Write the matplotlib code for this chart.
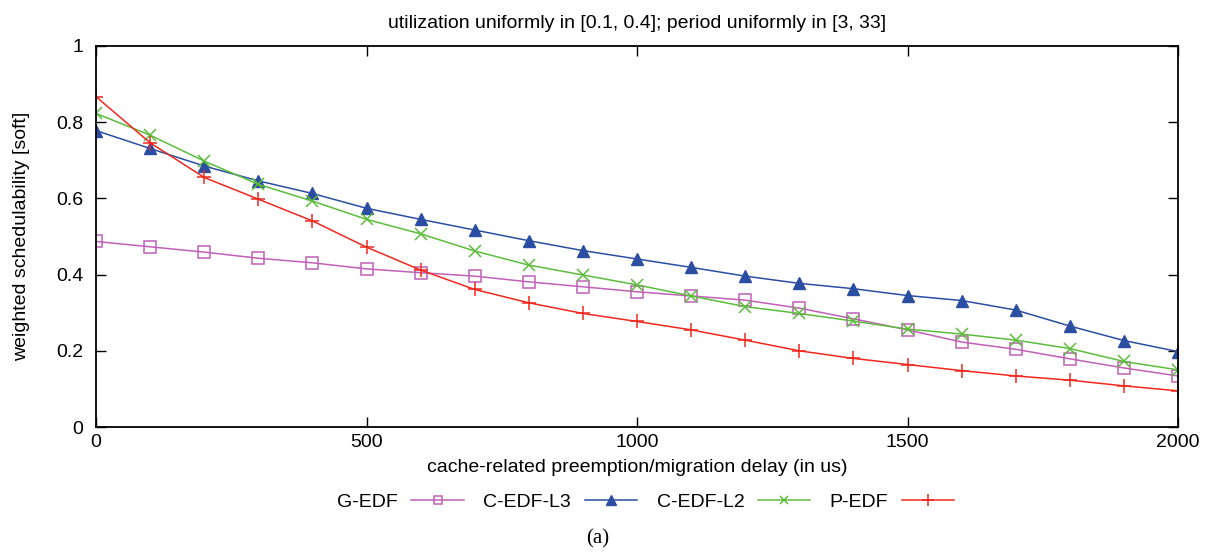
import matplotlib
matplotlib.use('Agg')
import matplotlib.pyplot as plt

# delay values (us) on the x axis
delay = [0, 100, 200, 300, 400, 500, 600, 700, 800, 900, 1000,
         1100, 1200, 1300, 1400, 1500, 1600, 1700, 1800, 1900, 2000]

# weighted schedulability
g_edf = [0.487, 0.473, 0.459, 0.443, 0.431, 0.415, 0.405, 0.396, 0.381, 0.368, 0.355,
         0.344, 0.333, 0.312, 0.284, 0.255, 0.223, 0.204, 0.179, 0.155, 0.134]
c_edf_l3 = [0.778, 0.731, 0.685, 0.646, 0.613, 0.574, 0.545, 0.517, 0.489, 0.463, 0.441,
            0.419, 0.396, 0.377, 0.363, 0.345, 0.332, 0.307, 0.265, 0.227, 0.198]
c_edf_l2 = [0.823, 0.766, 0.698, 0.637, 0.593, 0.545, 0.507, 0.462, 0.425, 0.399, 0.373,
            0.344, 0.316, 0.298, 0.278, 0.257, 0.244, 0.228, 0.206, 0.172, 0.150]
p_edf = [0.867, 0.746, 0.655, 0.598, 0.541, 0.472, 0.412, 0.361, 0.326, 0.298, 0.277,
         0.255, 0.228, 0.200, 0.180, 0.164, 0.148, 0.134, 0.123, 0.108, 0.095]

xticks = [0, 500, 1000, 1500, 2000]
yticks = [0, 0.2, 0.4, 0.6, 0.8, 1]

plt.rcParams['font.family'] = ['Liberation Sans', 'DejaVu Sans']
fs = 14

fig = plt.figure(figsize=(12.09, 5.52), dpi=100)
ax = fig.add_axes([0.0794, 0.2264, 0.8950, 0.6903])

ax.plot(delay, g_edf, color='#c060b8', lw=1.1, marker='s', ms=8,
        mfc='none', mec='#c060b8', mew=1.1, label='G-EDF')
ax.plot(delay, c_edf_l3, color='#2b4ea2', lw=1.1, marker='^', ms=9,
        label='C-EDF-L3')
ax.plot(delay, c_edf_l2, color='#5cbd3c', lw=1.1, marker='x', ms=8,
        mew=1.1, label='C-EDF-L2')
ax.plot(delay, p_edf, color='#f0281e', lw=1.1, marker='+', ms=10,
        mew=1.1, label='P-EDF')

ax.set_xlim(0, 2000)
ax.set_ylim(0, 1)
ax.set_xticks(xticks)
ax.set_xticklabels([str(t) for t in xticks])
ax.set_yticks(yticks)
ax.set_yticklabels(['0', '0.2', '0.4', '0.6', '0.8', '1'])
ax.tick_params(direction='in', top=True, right=True, length=7, width=1,
               labelsize=fs)
ax.tick_params(axis='y', pad=9)
ax.tick_params(axis='x', pad=5)
for s in ax.spines.values():
    s.set_linewidth(1.3)

ax.set_title('utilization uniformly in [0.1, 0.4]; period uniformly in [3, 33]',
             fontsize=fs, pad=13)
ax.set_xlabel('cache-related preemption/migration delay (in us)', fontsize=fs, labelpad=6)
ax.set_ylabel('weighted schedulability [soft]', fontsize=fs, labelpad=19)

ax.legend(loc='center', bbox_to_anchor=(0.508, -0.198), ncol=4, frameon=False,
          markerfirst=False, handlelength=2.7, columnspacing=1.0,
          handletextpad=0.7, markerscale=0.8, fontsize=fs)

fig.text(0.494, 0.0236, '(a)', ha='center', va='center', fontsize=15,
         family='Liberation Serif')

fig.savefig('out.png', dpi=100)
